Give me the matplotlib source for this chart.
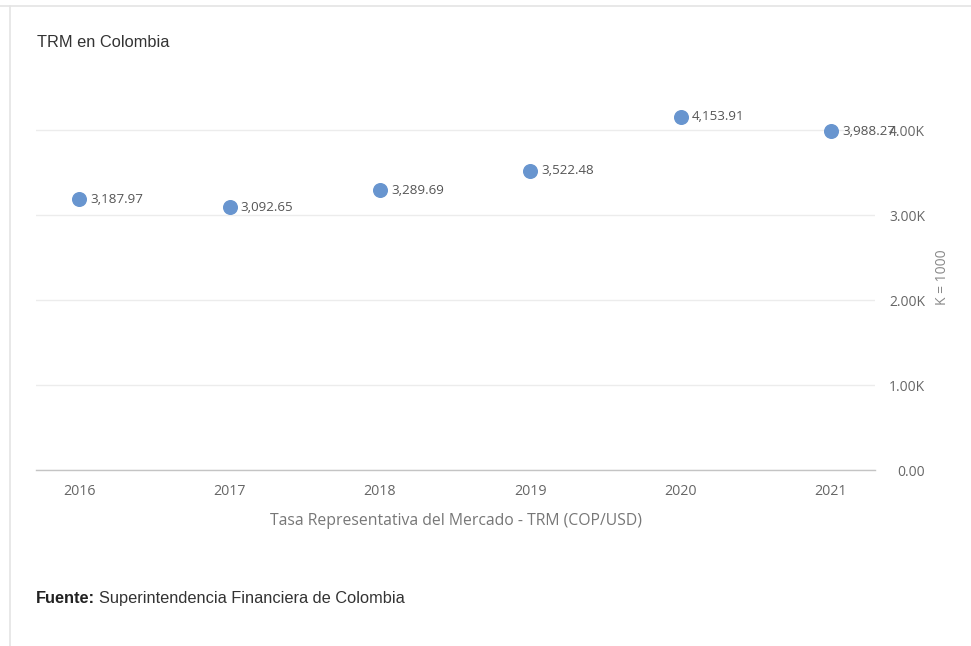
import matplotlib.pyplot as plt
from matplotlib.lines import Line2D
from matplotlib.ticker import FuncFormatter

years = [2016, 2017, 2018, 2019, 2020, 2021]
trm = [3187.97, 3092.65, 3289.69, 3522.48, 4153.91, 3988.27]
y_ticks = [0, 1000, 2000, 3000, 4000]

title = "TRM en Colombia"
x_label = "Tasa Representativa del Mercado - TRM (COP/USD)"
source_bold = "Fuente:"
source_text = "Superintendencia Financiera de Colombia"

ui_font = ["Open Sans", "DejaVu Sans"]
arial = ["Liberation Sans", "DejaVu Sans"]


def k_format(v, pos):
    if v == 0:
        return "0.00"
    return f"{v / 1000:.2f}K"


def main():
    fig = plt.figure(figsize=(9.71, 6.46), dpi=100)
    fig.patch.set_facecolor("white")

    # light card border at top and left
    fig.add_artist(Line2D([0, 1], [1 - 6 / 646, 1 - 6 / 646], color="#e4e4e4", lw=1.2,
                          transform=fig.transFigure))
    fig.add_artist(Line2D([10 / 971, 10 / 971], [0, 1 - 6 / 646], color="#e4e4e4", lw=1.2,
                          transform=fig.transFigure))

    ax = fig.add_axes([36 / 971, 1 - 470 / 646, 839 / 971, 375 / 646])
    ax.set_xlim(2015.713, 2021.293)
    ax.set_ylim(0, 4412)

    ax.plot(years, trm, "o", color="#6895cf", ms=9.8, zorder=3, clip_on=False)
    for x, y in zip(years, trm):
        ax.annotate(f"{y:,.2f}", (x, y), xytext=(8, 0), textcoords="offset points",
                    ha="left", va="center", fontsize=9.6, color="#555555",
                    family=ui_font, zorder=4)

    for s in ["top", "right", "left"]:
        ax.spines[s].set_visible(False)
    ax.spines["bottom"].set_color("#c4c4c4")
    ax.spines["bottom"].set_linewidth(1.0)

    ax.set_yticks(y_ticks)
    ax.yaxis.set_major_formatter(FuncFormatter(k_format))
    ax.yaxis.tick_right()
    ax.tick_params(axis="y", length=0, pad=36, labelsize=10, labelcolor="#666666")
    for lbl in ax.get_yticklabels():
        lbl.set_horizontalalignment("right")
        lbl.set_family(ui_font)
    ax.grid(axis="y", color="#ececec", lw=1.0)
    ax.set_axisbelow(True)

    ax.set_xticks(years)
    ax.set_xticklabels([str(y) for y in years], family=ui_font)
    ax.tick_params(axis="x", length=0, pad=10, labelsize=10.3, labelcolor="#666666")
    ax.set_xlabel(x_label, fontsize=11.3, color="#777777", family=ui_font, labelpad=10)

    fig.text(942 / 971, 1 - 277 / 646, "K = 1000", rotation=90, ha="center", va="center",
             fontsize=10, color="#888888", family=ui_font)

    fig.text(37 / 971, 1 - 47 / 646, title, ha="left", va="baseline",
             fontsize=11.8, color="#333333", family=arial)

    # bold lead-in and plain source text share one baseline
    base_y = 1 - 603 / 646
    t = fig.text(36 / 971, base_y, source_bold, ha="left", va="baseline",
                 fontsize=11.8, color="#222222", family=arial, weight="bold")
    fig.canvas.draw()
    bb = t.get_window_extent()
    fig.text((bb.x1 + 4) / 971, base_y, source_text, ha="left", va="baseline",
             fontsize=11.8, color="#333333", family=arial)

    fig.savefig("out.png", dpi=100, facecolor="white")


if __name__ == "__main__":
    main()
